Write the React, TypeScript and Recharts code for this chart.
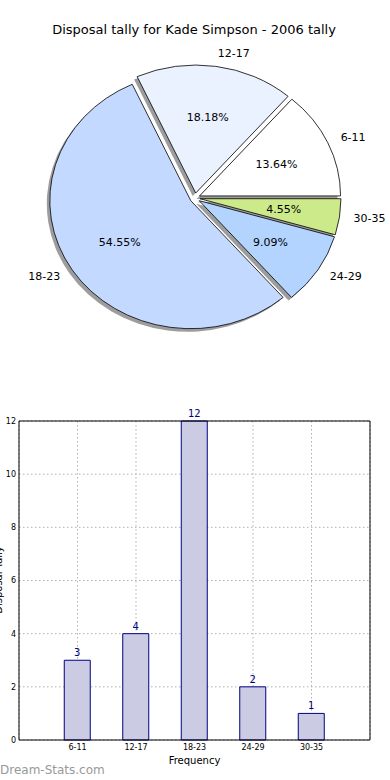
import { PieChart, Pie, Cell, BarChart, Bar, XAxis, YAxis, CartesianGrid, LabelList } from 'recharts';

const categories = ['6-11', '12-17', '18-23', '24-29', '30-35'];
const tally = [3, 4, 12, 2, 1];
const sliceColors = ['#ffffff', '#eaf1ff', '#c4d9ff', '#b3d4ff', '#cdea8a'];
const yTicks = [0, 2, 4, 6, 8, 10, 12];

const FONT = '"DejaVu Sans", Verdana, sans-serif';
const RAD = Math.PI / 180;
// the original pie is slightly squashed vertically
const Y_SQUASH = 128 / 141;
const EXPLODE = 5;

const data = categories.map((name, i) => ({ name, value: tally[i] }));

function wedgePath(cx: number, cy: number, rx: number, ry: number, a0: number, a1: number) {
  const x0 = cx + rx * Math.cos(a0 * RAD);
  const y0 = cy - ry * Math.sin(a0 * RAD);
  const x1 = cx + rx * Math.cos(a1 * RAD);
  const y1 = cy - ry * Math.sin(a1 * RAD);
  const large = Math.abs(a1 - a0) > 180 ? 1 : 0;
  return `M${cx},${cy} L${x0},${y0} A${rx},${ry} 0 ${large} 0 ${x1},${y1} Z`;
}

const makeWedge = (shadow: boolean) => (props: any) => {
  const { cx, cy, outerRadius, startAngle, endAngle, fill } = props;
  const mid = (startAngle + endAngle) / 2;
  const dx = EXPLODE * Math.cos(mid * RAD) + (shadow ? -3 : 0);
  const dy = -EXPLODE * Math.sin(mid * RAD) + (shadow ? 3 : 0);
  const d = wedgePath(cx + dx, cy + dy, outerRadius, outerRadius * Y_SQUASH, startAngle, endAngle);
  if (shadow) return <path d={d} fill="#4d4d4d" fillOpacity={0.55} stroke="none" />;
  return <path d={d} fill={fill} stroke="#000" strokeWidth={0.8} />;
};

const renderPieLabel = (props: any) => {
  const { cx, cy, outerRadius, startAngle, endAngle, percent, payload } = props;
  const mid = (startAngle + endAngle) / 2;
  const c = Math.cos(mid * RAD);
  const s = Math.sin(mid * RAD);
  const rx = outerRadius;
  const ry = outerRadius * Y_SQUASH;
  const px = cx + c * (0.6 * rx + EXPLODE);
  const py = cy - s * (0.6 * ry + EXPLODE);
  const lx = cx + c * (1.1 * rx + EXPLODE);
  const ly = cy - s * (1.1 * ry + EXPLODE);
  return (
    <g fontFamily={FONT} fontSize={11} fill="#000">
      <text x={px} y={py} textAnchor="middle" dominantBaseline="central">
        {(percent * 100).toFixed(2)}%
      </text>
      <text x={lx} y={ly} textAnchor={lx > cx ? 'start' : 'end'} dominantBaseline="central">
        {payload.name}
      </text>
    </g>
  );
};

export default function App() {
  return (
    <div style={{ position: 'absolute', left: 0, top: 0, width: 390, height: 780, background: '#fff', fontFamily: FONT }}>
      <div style={{ position: 'absolute', top: 22, left: 0, width: 388, textAlign: 'center', fontSize: 13, lineHeight: '16px' }}>
        Disposal tally for Kade Simpson - 2006 tally
      </div>

      <div style={{ position: 'absolute', top: 0, left: 0 }}>
        <PieChart width={390} height={390} margin={{ top: 0, right: 0, bottom: 0, left: 0 }}>
          <Pie
            data={data}
            dataKey="value"
            nameKey="name"
            cx={195}
            cy={198}
            outerRadius={141}
            startAngle={0}
            endAngle={360}
            shape={makeWedge(true)}
            label={false}
            labelLine={false}
            isAnimationActive={false}
          >
            {data.map((d, i) => (
              <Cell key={d.name} fill={sliceColors[i]} />
            ))}
          </Pie>
          <Pie
            data={data}
            dataKey="value"
            nameKey="name"
            cx={195}
            cy={198}
            outerRadius={141}
            startAngle={0}
            endAngle={360}
            shape={makeWedge(false)}
            label={renderPieLabel}
            labelLine={false}
            isAnimationActive={false}
          >
            {data.map((d, i) => (
              <Cell key={d.name} fill={sliceColors[i]} />
            ))}
          </Pie>
        </PieChart>
      </div>

      <div style={{ position: 'absolute', top: 400, left: 0 }}>
        <BarChart width={390} height={380} data={data} margin={{ top: 20, right: 19, left: 18, bottom: 0 }}>
          <XAxis
            dataKey="name"
            height={40}
            padding={{ left: 29.25, right: 29.25 }}
            interval={0}
            tickLine={false}
            tickSize={2}
            tickMargin={2}
            axisLine={{ stroke: '#000' }}
            tick={{ fontSize: 8, fill: '#000', fontFamily: FONT }}
            label={{
              content: () => (
                <text x={194.5} y={360} textAnchor="middle" dominantBaseline="central" fontSize={10} fontFamily={FONT} fill="#000">
                  Frequency
                </text>
              ),
            }}
          />
          <XAxis xAxisId="top" orientation="top" dataKey="name" height={1} tick={false} tickLine={false} axisLine={{ stroke: '#000' }} />
          <YAxis
            width={1}
            domain={[0, 12]}
            ticks={yTicks}
            tickLine={false}
            tickSize={1}
            tickMargin={2}
            axisLine={{ stroke: '#000' }}
            tick={{ fontSize: 8, fill: '#000', fontFamily: FONT }}
            label={{
              content: () => (
                <text x={2} y={180} transform="rotate(-90 2 180)" textAnchor="middle" fontSize={10} fontFamily={FONT} fill="#000">
                  Disposal Tally
                </text>
              ),
            }}
          />
          <YAxis yAxisId="right" orientation="right" width={1} domain={[0, 12]} tick={false} tickLine={false} axisLine={{ stroke: '#000' }} />
          <Bar dataKey="value" barSize={26} fill="#cbcbe3" stroke="#000080" strokeWidth={1} isAnimationActive={false}>
            <LabelList dataKey="value" position="top" offset={4} fill="#000080" fontSize={10} fontFamily={FONT} />
          </Bar>
          <CartesianGrid stroke="#b0b0b0" strokeDasharray="1.5 2.5" />
        </BarChart>
      </div>

      <div style={{ position: 'absolute', top: 763, left: 0, fontSize: 12, color: '#999', lineHeight: '15px' }}>
        Dream-Stats.com
      </div>
    </div>
  );
}
